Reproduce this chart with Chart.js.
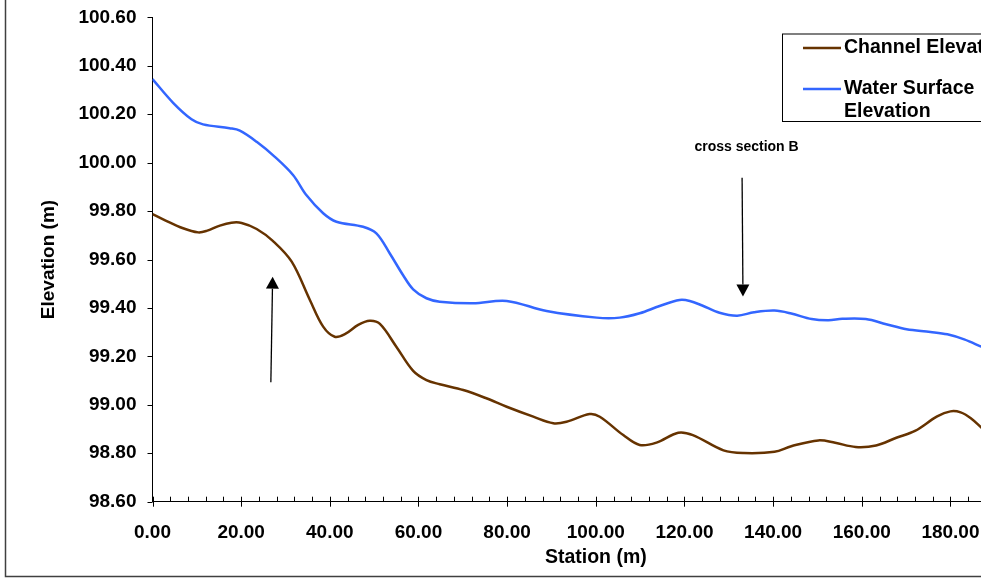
<!DOCTYPE html>
<html>
<head>
<meta charset="utf-8">
<script src="https://cdn.jsdelivr.net/npm/chart.js@4.4.1/dist/chart.umd.min.js"></script>
<style>
  html, body { margin: 0; padding: 0; background: #fff; overflow: hidden; }
  #wrap { position: relative; width: 981px; height: 578px; overflow: hidden; background: #fff; }
  #c { position: absolute; left: 0; top: 0; }
</style>
</head>
<body>
<div id="wrap"><canvas id="c" width="1050" height="578" style="width:1050px;height:578px"></canvas></div>
<script>
// Longitudinal profile: bed (channel) and water surface elevations along the reach
const channelStation = [0, 2.4, 6.9, 10.3, 12.2, 15.2, 17.8, 20.1, 23.5, 27.2, 31.4, 35.5, 38.5, 41.1, 43.4, 46.4,
  49.0, 51.3, 55.0, 58.8, 61.8, 64.8, 70.1, 75.3, 79.9, 85.9, 90.4, 93.4, 98.6, 100.9, 106.2, 109.9, 113.7,
  118.6, 121.9, 128.8, 133.4, 140.3, 144.1, 150.2, 154.0, 158.6, 163.2, 167.8, 172.0, 177.0, 180.0, 182.3,
  184.6, 187.1];
const channelElevation = [99.787, 99.766, 99.729, 99.712, 99.718, 99.740, 99.752, 99.751, 99.726, 99.676, 99.591,
  99.433, 99.323, 99.281, 99.292, 99.330, 99.347, 99.334, 99.240, 99.140, 99.102, 99.085, 99.061, 99.027, 98.992,
  98.951, 98.924, 98.930, 98.962, 98.951, 98.875, 98.834, 98.844, 98.885, 98.875, 98.812, 98.801, 98.806, 98.829,
  98.853, 98.843, 98.826, 98.832, 98.864, 98.892, 98.952, 98.973, 98.969, 98.945, 98.904];

const waterStation = [0, 4.65, 8.8, 11.4, 17.4, 19.7, 23.5, 27.6, 31.7, 34.7, 38.5, 41.5, 47.5, 50.5, 53.5, 56.5,
  58.8, 61.8, 64.8, 72.3, 79.9, 88.9, 100.2, 105.4, 109.9, 114.4, 118.9, 121.2, 124.0, 127.9, 131.9, 135.7,
  140.3, 144.1, 148.7, 152.5, 155.6, 160.9, 165.5, 170.1, 175.5, 179.3, 183.1, 187.1];
const waterElevation = [100.345, 100.247, 100.179, 100.158, 100.142, 100.132, 100.086, 100.024, 99.949, 99.866,
  99.791, 99.756, 99.735, 99.708, 99.626, 99.536, 99.477, 99.440, 99.426, 99.419, 99.429, 99.387, 99.360, 99.360,
  99.378, 99.408, 99.433, 99.429, 99.410, 99.380, 99.368, 99.382, 99.389, 99.377, 99.354, 99.349, 99.355, 99.354,
  99.333, 99.312, 99.301, 99.291, 99.270, 99.239];

const seriesNames = ['Channel Elevation', 'Water Surface Elevation'];
const seriesColors = ['#663300', '#3366FF'];

// Axis ranges and tick spacing
const xRange = [0, 200];
const xMajorStep = 20;
const xMinorStep = 4;
const yRange = [98.6, 100.6];
const yStep = 0.2;

// Annotations, placed in data units (station, elevation)
const arrowNotes = [
  { from: { x: 26.7, y: 99.093 }, to: { x: 27.1, y: 99.529 } },
  { from: { x: 133.0, y: 99.938 }, to: { x: 133.2, y: 99.447 } }
];
const textNotes = [
  { x: 134.0, y: 100.065, text: 'cross section B' }
];

const FONT = '"Liberation Sans", Arial, Helvetica, sans-serif';

const toPoints = (xs, ys) => xs.map((v, i) => ({ x: v, y: ys[i] }));

// Tick marks, annotations, legend and outer frame
const decorations = {
  id: 'decorations',
  afterDraw(chart) {
    const { ctx, chartArea: a, scales: { x, y } } = chart;
    ctx.save();
    ctx.strokeStyle = '#000';
    ctx.fillStyle = '#000';
    ctx.lineWidth = 1;

    // y ticks (outside)
    y.ticks.forEach(t => {
      const py = Math.round(y.getPixelForValue(t.value)) + 0.5;
      ctx.beginPath(); ctx.moveTo(a.left - 5, py); ctx.lineTo(a.left, py); ctx.stroke();
    });
    // x ticks: majors cross the axis, minors point inward
    for (let v = xRange[0]; v <= xRange[1] + 1e-9; v += xMinorStep) {
      const px = Math.round(x.getPixelForValue(v)) + 0.5;
      const major = Math.abs(v / xMajorStep - Math.round(v / xMajorStep)) < 1e-9;
      ctx.beginPath();
      ctx.moveTo(px, a.bottom - 5);
      ctx.lineTo(px, major ? a.bottom + 5 : a.bottom);
      ctx.stroke();
    }

    // arrows
    ctx.lineWidth = 1.3;
    arrowNotes.forEach(n => {
      const x1 = x.getPixelForValue(n.from.x), y1 = y.getPixelForValue(n.from.y);
      const x2 = x.getPixelForValue(n.to.x), y2 = y.getPixelForValue(n.to.y);
      const ang = Math.atan2(y2 - y1, x2 - x1);
      const headLen = 12, headHalf = 6.5;
      const bx = x2 - headLen * Math.cos(ang), by = y2 - headLen * Math.sin(ang);
      ctx.beginPath(); ctx.moveTo(x1, y1); ctx.lineTo(bx, by); ctx.stroke();
      ctx.beginPath();
      ctx.moveTo(x2, y2);
      ctx.lineTo(bx + headHalf * Math.sin(ang), by - headHalf * Math.cos(ang));
      ctx.lineTo(bx - headHalf * Math.sin(ang), by + headHalf * Math.cos(ang));
      ctx.closePath(); ctx.fill();
    });

    // text notes
    ctx.font = 'bold 14px ' + FONT;
    ctx.textAlign = 'center';
    ctx.textBaseline = 'middle';
    textNotes.forEach(n => {
      ctx.fillText(n.text, x.getPixelForValue(n.x), y.getPixelForValue(n.y));
    });

    // legend box
    const box = { left: 782, top: 33.5, width: 250, height: 87.5 };
    ctx.fillStyle = '#fff';
    ctx.fillRect(box.left, box.top, box.width, box.height);
    ctx.strokeStyle = '#000';
    ctx.lineWidth = 1;
    ctx.strokeRect(box.left + 0.5, box.top + 0.5, box.width, box.height);
    ctx.font = 'bold 19.5px ' + FONT;
    ctx.textAlign = 'left';
    ctx.textBaseline = 'middle';
    let rowY = 48;
    chart.data.datasets.forEach(ds => {
      ctx.strokeStyle = ds.borderColor;
      ctx.lineWidth = 2.5;
      ctx.beginPath(); ctx.moveTo(803, rowY); ctx.lineTo(841, rowY); ctx.stroke();
      // wrap label inside the box
      const words = ds.label.split(' ');
      const lines = [];
      let cur = '';
      words.forEach(w => {
        const test = cur ? cur + ' ' + w : w;
        if (ctx.measureText(test).width > 180 && cur) { lines.push(cur); cur = w; } else { cur = test; }
      });
      lines.push(cur);
      ctx.fillStyle = '#000';
      lines.forEach((ln, i) => ctx.fillText(ln, 844, rowY + i * 23));
      rowY += 41;
    });

    // outer frame
    ctx.strokeStyle = '#404040';
    ctx.lineWidth = 1.5;
    ctx.beginPath();
    ctx.moveTo(5.5, 0); ctx.lineTo(5.5, 576.5); ctx.lineTo(chart.width, 576.5);
    ctx.stroke();
    ctx.restore();
  }
};

new Chart(document.getElementById('c'), {
  type: 'line',
  data: {
    datasets: [
      {
        label: seriesNames[0],
        data: toPoints(channelStation, channelElevation),
        borderColor: seriesColors[0],
        backgroundColor: seriesColors[0],
        borderWidth: 2.5,
        pointRadius: 0,
        tension: 0.35,
        fill: false
      },
      {
        label: seriesNames[1],
        data: toPoints(waterStation, waterElevation),
        borderColor: seriesColors[1],
        backgroundColor: seriesColors[1],
        borderWidth: 2.5,
        pointRadius: 0,
        tension: 0.35,
        fill: false
      }
    ]
  },
  options: {
    responsive: false,
    animation: false,
    events: [],
    layout: { padding: { left: 0, top: 17.3, right: 10.9, bottom: 0 } },
    plugins: { legend: { display: false }, tooltip: { enabled: false } },
    scales: {
      x: {
        type: 'linear',
        min: xRange[0], max: xRange[1],
        grid: { display: false, drawTicks: false },
        border: { display: true, color: '#000', width: 1 },
        ticks: {
          stepSize: xMajorStep,
          padding: 20,
          color: '#000',
          font: { family: FONT, size: 19, weight: 'bold' },
          maxRotation: 0,
          callback: v => Number(v).toFixed(2)
        },
        title: {
          display: true, text: 'Station (m)', color: '#000',
          font: { family: FONT, size: 19.5, weight: 'bold' },
          padding: { top: 0, bottom: 8.5 }
        },
        afterFit: s => { s.height = 76.3; s.paddingLeft = 0; s.paddingRight = 0; }
      },
      y: {
        min: yRange[0], max: yRange[1],
        grid: { display: false, drawTicks: false },
        border: { display: true, color: '#000', width: 1 },
        ticks: {
          stepSize: yStep,
          padding: 16,
          color: '#000',
          font: { family: FONT, size: 19, weight: 'bold' },
          callback: v => Number(v).toFixed(2)
        },
        title: {
          display: true, text: 'Elevation (m)', color: '#000',
          font: { family: FONT, size: 19, weight: 'bold' },
          padding: { top: 37, bottom: 0 }
        },
        afterFit: s => { s.width = 152.5; s.paddingTop = 0; s.paddingBottom = 0; }
      }
    }
  },
  plugins: [decorations]
});
</script>
</body>
</html>
